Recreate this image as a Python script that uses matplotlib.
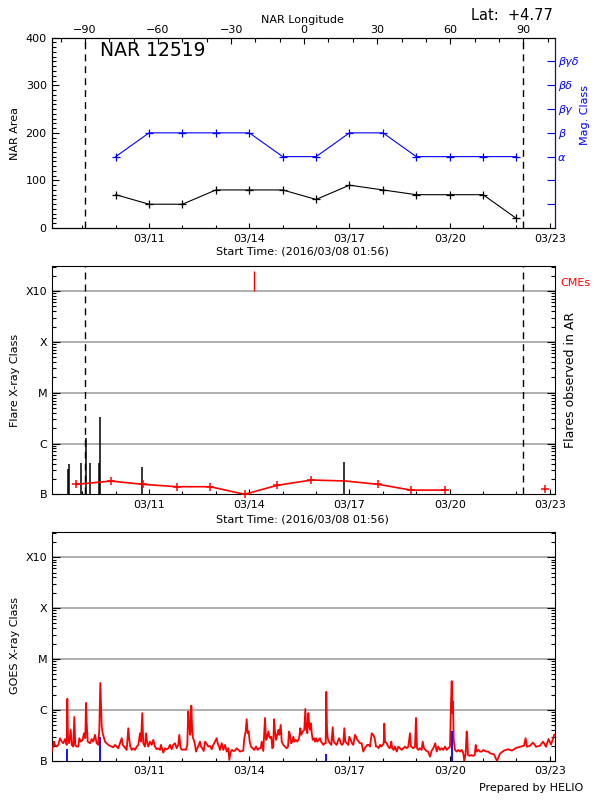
import numpy as np
import pandas as pd
import matplotlib
matplotlib.use('Agg')
import matplotlib.pyplot as plt
import matplotlib.dates as mdates
from matplotlib.ticker import FixedLocator, MultipleLocator, NullFormatter, LogLocator, FixedFormatter

plt.rcParams['font.family'] = ['DejaVu Sans']

# ---------------- data (days are decimal day-of-March 2016) ----------------
x_start_day = 8.081      # 2016/03/08 01:56
x_end_day = 23.153
lon_m90_day = 9.078      # NAR longitude -90
lon_p90_day = 22.204     # NAR longitude +90
date_tick_days = [11, 14, 17, 20, 23]
lon_ticks = [-90, -60, -30, 0, 30, 60, 90]

nar_days = [10, 11, 12, 13, 14, 15, 16, 17, 18, 19, 20, 21, 22]
nar_area = [70, 50, 50, 80, 80, 80, 60, 90, 80, 70, 70, 70, 20]
mag_class = ['α', 'β', 'β', 'β', 'β', 'α', 'α', 'β', 'β', 'α', 'α', 'α', 'α']
mag_names = ['', '', 'α', 'β', 'βγ', 'βδ', 'βγδ']

flare_days = [8.581, 8.611, 8.952, 9.111, 9.222, 9.509, 9.530, 10.776, 16.836]
flare_peak = [3.2e-7, 3.9e-7, 4.2e-7, 1.3e-6, 4.2e-7, 4.2e-7, 3.3e-6, 3.4e-7, 4.3e-7]

bg_days = [8.826, 9.856, 10.826, 11.835, 12.829, 13.859, 14.832, 15.862, 16.86,
           17.865, 18.838, 19.868, 20.85, 21.85, 22.845]
bg_flux = [1.57e-7, 1.82e-7, 1.57e-7, 1.41e-7, 1.41e-7, 1.0e-7, 1.5e-7, 1.91e-7, 1.83e-7,
           1.57e-7, 1.21e-7, 1.21e-7, np.nan, np.nan, 1.29e-7]
bg_marker = [1, 1, 1, 1, 1, 1, 1, 1, 0, 1, 1, 1, 0, 0, 1]

cme_days = [14.147]
cme_low, cme_high = 1.0e-3, 2.5e-3

class_levels = [1e-7, 1e-6, 1e-5, 1e-4, 1e-3]
class_labels = ['B', 'C', 'M', 'X', 'X10']

goes_evt_days = [8.551, 9.539, 16.306, 20.078]
goes_evt_top = [1.74e-7, 2.9e-7, 1.38e-7, 3.8e-7]

goes_days = [
 8.081, 8.093, 8.132, 8.153, 8.183, 8.234, 8.281, 8.332, 8.383, 8.431, 8.482, 8.533, 8.551, 8.572,
 8.602, 8.653, 8.683, 8.731, 8.761, 8.791, 8.832, 8.880, 8.910, 8.952, 9.012, 9.051, 9.090, 9.111,
 9.132, 9.162, 9.231, 9.282, 9.329, 9.380, 9.431, 9.479, 9.509, 9.539, 9.560, 9.581, 9.611, 9.650,
 9.680, 9.731, 9.779, 9.829, 9.880, 9.928, 9.979, 10.030, 10.078, 10.129, 10.180, 10.210, 10.249,
 10.288, 10.329, 10.377, 10.407, 10.437, 10.479, 10.527, 10.578, 10.629, 10.677, 10.728, 10.758,
 10.796, 10.826, 10.877, 10.907, 10.946, 10.976, 11.027, 11.078, 11.126, 11.177, 11.228, 11.275,
 11.326, 11.356, 11.395, 11.425, 11.476, 11.527, 11.575, 11.625, 11.676, 11.724, 11.775, 11.826,
 11.874, 11.904, 11.945, 11.993, 12.053, 12.104, 12.143, 12.173, 12.203, 12.225, 12.246, 12.264,
 12.285, 12.306, 12.336, 12.366, 12.404, 12.443, 12.485, 12.524, 12.554, 12.593, 12.635, 12.674,
 12.725, 12.772, 12.823, 12.874, 12.922, 12.973, 13.024, 13.054, 13.093, 13.123, 13.174, 13.222,
 13.272, 13.323, 13.371, 13.401, 13.443, 13.482, 13.521, 13.572, 13.623, 13.670, 13.721, 13.772,
 13.820, 13.850, 13.892, 13.922, 13.952, 13.982, 14.012, 14.051, 14.102, 14.150, 14.201, 14.251,
 14.299, 14.341, 14.371, 14.419, 14.470, 14.500, 14.530, 14.569, 14.599, 14.629, 14.659, 14.689,
 14.719, 14.740, 14.770, 14.800, 14.839, 14.869, 14.899, 14.941, 14.971, 15.019, 15.069, 15.120,
 15.159, 15.189, 15.219, 15.249, 15.288, 15.318, 15.348, 15.390, 15.438, 15.468, 15.498, 15.527,
 15.557, 15.599, 15.647, 15.677, 15.707, 15.737, 15.767, 15.797, 15.817, 15.847, 15.869, 15.899,
 15.937, 15.967, 15.997, 16.036, 16.078, 16.117, 16.147, 16.186, 16.216, 16.258, 16.288, 16.306,
 16.327, 16.348, 16.378, 16.416, 16.455, 16.497, 16.527, 16.566, 16.617, 16.665, 16.695, 16.737,
 16.776, 16.815, 16.845, 16.875, 16.917, 16.965, 16.995, 17.036, 17.075, 17.114, 17.165, 17.195,
 17.234, 17.276, 17.314, 17.365, 17.413, 17.455, 17.494, 17.533, 17.584, 17.614, 17.665, 17.713,
 17.755, 17.794, 17.833, 17.875, 17.913, 17.952, 17.994, 18.024, 18.042, 18.063, 18.114, 18.161,
 18.203, 18.233, 18.251, 18.281, 18.323, 18.362, 18.413, 18.461, 18.512, 18.563, 18.611, 18.662,
 18.712, 18.760, 18.811, 18.841, 18.910, 18.961, 18.991, 19.021, 19.060, 19.110, 19.161, 19.191,
 19.230, 19.290, 19.350, 19.410, 19.461, 19.509, 19.569, 19.610, 19.658, 19.709, 19.760, 19.808,
 19.859, 19.909, 19.957, 20.009, 20.039, 20.060, 20.078, 20.099, 20.120, 20.159, 20.210, 20.258,
 20.308, 20.359, 20.407, 20.437, 20.479, 20.509, 20.527, 20.548, 20.587, 20.659, 20.707, 20.749,
 20.779, 20.809, 20.857, 20.907, 20.958, 21.006, 21.057, 21.108, 21.156, 21.207, 21.327, 21.416,
 21.506, 21.626, 21.746, 21.866, 21.985, 22.105, 22.225, 22.273, 22.315, 22.405, 22.495, 22.584,
 22.704, 22.794, 22.884, 22.959, 23.034, 23.133]
# GOES 1-8 A flux in units of 1e-7 W/m^2
goes_b = [
 1.53, 1.78, 1.92, 2.4, 2.07, 1.92, 2.07, 2.8, 2.4, 2.23, 2.7, 2.07, 16.6, 3.0,
 2.23, 4.1, 2.07, 1.92, 7.3, 2.07, 1.92, 1.92, 2.8, 2.4, 2.6, 3.5, 2.8, 13.8,
 5.5, 2.4, 2.23, 2.7, 2.4, 3.26, 2.23, 2.07, 4.1, 34, 11.8, 4.8, 3.5, 2.8,
 2.4, 2.23, 2.07, 1.98, 1.92, 1.86, 2.07, 1.92, 1.78, 2.23, 2.8, 2.07, 1.92,
 1.78, 1.65, 4.4, 2.6, 1.92, 1.65, 1.78, 1.65, 1.92, 2.07, 3.5, 2.4,
 8.7, 2.23, 1.92, 3.5, 2.23, 1.92, 2.4, 2.07, 2.6, 1.9, 1.7, 1.78,
 1.65, 2.07, 1.7, 1.46, 1.78, 1.7, 1.78, 2.07, 1.7, 2.07, 2.23, 1.78,
 2.07, 3.26, 1.78, 1.65, 1.7, 1.65, 2.07, 9.4, 5.5, 3.26, 4.1, 12.2,
 4.8, 3.0, 2.6, 2.23, 1.53, 1.78, 2.07, 2.4, 1.92, 1.78, 1.57, 2.4,
 2.16, 1.92, 1.98, 1.7, 2.07, 2.4, 2.8, 2.23, 1.92, 1.65, 2.23, 1.65,
 2.07, 1.53, 1.78, 1.05, 1.53, 1.65, 1.57, 1.6, 1.78, 1.65, 1.53, 1.57,
 1.6, 2.8, 3.8, 6.6, 3.5, 3.8, 2.4, 1.92, 1.78, 1.65, 1.92, 1.65,
 1.78, 1.78, 2.4, 1.57, 7.0, 2.6, 2.8, 3.8, 3.0, 2.8, 3.0, 1.78,
 1.92, 6.6, 3.8, 2.6, 3.26, 4.1, 3.26, 5.1, 2.4, 2.07, 1.92, 1.78,
 1.92, 3.8, 3.26, 2.23, 2.4, 3.0, 2.4, 2.6, 2.4, 2.6, 3.0, 4.4,
 3.26, 3.8, 4.1, 10.5, 4.1, 3.5, 8.7, 4.8, 4.1, 5.5, 3.5, 2.6,
 2.8, 2.4, 2.8, 2.4, 2.6, 2.8, 2.4, 2.23, 2.07, 2.23, 2.23, 22.7,
 4.1, 2.8, 2.4, 2.23, 2.07, 4.6, 2.4, 2.23, 2.07, 2.6, 2.8, 2.23,
 2.07, 2.23, 4.4, 2.4, 2.23, 2.07, 3.0, 2.6, 2.23, 2.07, 3.26, 3.0,
 2.6, 2.4, 2.23, 2.23, 1.53, 1.78, 1.92, 2.07, 2.07, 1.92, 3.5, 3.26,
 2.8, 1.92, 1.92, 1.78, 2.07, 1.92, 2.07, 2.23, 5.4, 2.4, 2.23, 1.92,
 1.78, 1.92, 2.4, 1.78, 1.65, 1.92, 1.53, 1.92, 1.78, 1.65, 1.78, 1.92,
 1.78, 1.92, 3.5, 1.92, 1.78, 1.92, 7.0, 1.78, 1.65, 1.78, 1.65, 2.4,
 1.78, 1.6, 1.53, 1.22, 1.6, 1.78, 2.23, 1.53, 1.92, 1.65, 1.78, 1.65,
 1.92, 1.65, 1.78, 1.92, 13.8, 37, 8.7, 14.8, 2.6, 1.65, 1.53, 1.65,
 1.53, 1.65, 1.42, 1.0, 1.42, 3.8, 2.8, 1.31, 1.26, 1.31, 1.26, 1.31,
 2.07, 1.53, 1.65, 1.53, 1.53, 1.65, 1.57, 1.53, 1.53, 1.42, 1.35, 1.0,
 1.4, 1.6, 1.7, 1.6, 1.8, 1.9, 2.0, 2.8, 1.9, 2.0, 2.3, 1.9,
 2.0, 2.4, 1.9, 2.7, 2.1, 3.3]

# ---------------- helpers ----------------
T0 = pd.Timestamp('2016-03-01')


def dnum(days):
    d = np.atleast_1d(np.asarray(days, dtype=float))
    return mdates.date2num((T0 + pd.to_timedelta(d - 1.0, unit='D')).to_numpy())


W, H = 600, 800
fig = plt.figure(figsize=(6, 8), dpi=100)
fig.patch.set_facecolor('white')

L = 51.6 / W
Wd = 503.4 / W
ax1 = fig.add_axes([L, 1 - 228 / H, Wd, 190.3 / H])
ax2 = fig.add_axes([L, 1 - 494.3 / H, Wd, 228.6 / H])
ax3 = fig.add_axes([L, 1 - 761 / H, Wd, 229.3 / H])

xlim = (dnum(x_start_day)[0], dnum(x_end_day)[0])
FS = 8
GRAY = '#9a9a9a'
dash = (0, (5, 3.6))
MS = 6


def style_time_axis(ax, pad):
    ax.set_xlim(*xlim)
    ax.xaxis.set_major_locator(FixedLocator(dnum(date_tick_days)))
    ax.xaxis.set_minor_locator(mdates.DayLocator())
    ax.xaxis.set_major_formatter(mdates.DateFormatter('%m/%d'))
    ax.tick_params(axis='x', which='major', direction='in', length=3.5, width=0.8,
                   top=False, labelsize=FS, pad=pad)
    ax.tick_params(axis='x', which='minor', direction='in', length=2.3, width=0.8, top=False)
    for s in ax.spines.values():
        s.set_linewidth(0.8)


# ---------------- panel 1 ----------------
style_time_axis(ax1, 4)
ax1.set_ylim(0, 400)
ax1.yaxis.set_major_locator(MultipleLocator(100))
ax1.yaxis.set_minor_locator(MultipleLocator(10))
ax1.tick_params(axis='y', which='major', direction='in', length=5, width=0.8,
                right=False, labelsize=FS, pad=3.5)
ax1.tick_params(axis='y', which='minor', direction='in', length=2.8, width=0.8, right=False)
ax1.plot(dnum(nar_days), nar_area, color='black', lw=0.8, marker='+', ms=MS, mew=0.9)
for d in (lon_m90_day, lon_p90_day):
    ax1.axvline(dnum(d)[0], color='black', lw=1.0, ls=dash)

# top longitude axis
ax1t = ax1.twiny()
rate = 180.0 / (lon_p90_day - lon_m90_day)
ax1t.set_xlim(-90 + (x_start_day - lon_m90_day) * rate, -90 + (x_end_day - lon_m90_day) * rate)
ax1t.xaxis.set_major_locator(FixedLocator(lon_ticks))
ax1t.xaxis.set_minor_locator(MultipleLocator(10))
ax1t.tick_params(axis='x', which='major', direction='in', length=4, width=0.8,
                 labelsize=FS, pad=2)
ax1t.tick_params(axis='x', which='minor', direction='in', length=3, width=0.8)
ax1t.xaxis.set_major_formatter(FixedFormatter([('\u2212%d' % -v) if v < 0 else '%d' % v
                                               for v in lon_ticks]))

# right mag class axis
ax1r = ax1.twinx()
ax1r.set_ylim(0, 8)
ax1r.set_yticks(range(1, 8))
ax1r.set_yticklabels(mag_names, color='blue', fontsize=FS, fontstyle='italic')
ax1r.tick_params(axis='y', direction='in', length=5.5, width=0.8, colors='blue', pad=2)
ax1r.tick_params(axis='y', labelcolor='blue')
ax1r.spines['right'].set_color('blue')
for s in ('left', 'top', 'bottom'):
    ax1r.spines[s].set_visible(False)
ax1.spines['right'].set_visible(False)
ax1r.spines['right'].set_linewidth(0.8)
mag_idx = [mag_names.index(m) + 1 for m in mag_class]
ax1r.plot(dnum(nar_days), mag_idx, color='blue', lw=0.8, marker='+', ms=MS, mew=0.9)

# ---------------- log panels ----------------
def style_log(ax):
    ax.set_yscale('log')
    ax.set_ylim(1e-7, 10 ** -2.5)
    ax.yaxis.set_major_locator(FixedLocator(class_levels))
    ax.yaxis.set_major_formatter(FixedFormatter(class_labels))
    ax.yaxis.set_minor_locator(LogLocator(base=10, subs=np.arange(2, 10), numticks=20))
    ax.yaxis.set_minor_formatter(NullFormatter())
    ax.tick_params(axis='y', which='major', direction='in', length=5.5, width=0.8,
                   left=True, right=True, labelsize=FS, pad=3)
    ax.tick_params(axis='y', which='minor', direction='in', length=2.8, width=0.8,
                   left=True, right=True)
    for lv in class_levels[1:]:
        ax.axhline(lv, color=GRAY, lw=1.1, zorder=1)


# panel 2
style_time_axis(ax2, 4)
style_log(ax2)
ax2.vlines(dnum(flare_days), 1e-7, flare_peak, color='black', lw=1.1, zorder=3)
for d in (lon_m90_day, lon_p90_day):
    ax2.axvline(dnum(d)[0], color='black', lw=1.0, ls=dash, zorder=2)
bgx = dnum(bg_days)
ax2.plot(bgx, bg_flux, color='red', lw=1.2, zorder=4, clip_on=True)
mk = [i for i, m in enumerate(bg_marker) if m]
ax2.plot(bgx[mk], np.array(bg_flux)[mk], ls='none', color='red', marker='+', ms=MS, mew=1.1,
         zorder=4, clip_on=False)
ax2.vlines(dnum(cme_days), cme_low, cme_high, color='red', lw=1.0, zorder=4)

# panel 3
style_time_axis(ax3, 3.5)
style_log(ax3)
ax3.plot(dnum(goes_days), np.array(goes_b) * 1e-7, color='red', lw=1.3, zorder=3)
ax3.vlines(dnum(goes_evt_days), 1e-7, goes_evt_top, color='blue', lw=1.3, zorder=4)

# ---------------- texts ----------------
def ft(x, y, s, **kw):
    fig.text(x / W, 1 - y / H, s, **kw)


ft(302, 20, 'NAR Longitude', ha='center', va='center', fontsize=FS)
ft(553, 15, 'Lat:  +4.77', ha='right', va='center', fontsize=10.5)
ft(100, 51, 'NAR 12519', ha='left', va='center', fontsize=13.5)
ft(15, 133, 'NAR Area', ha='center', va='center', rotation=90, fontsize=FS)
ft(585, 115, 'Mag. Class', ha='center', va='center', rotation=90, fontsize=FS, color='blue')
ft(302, 252, 'Start Time: (2016/03/08 01:56)', ha='center', va='center', fontsize=FS)
ft(15, 380, 'Flare X-ray Class', ha='center', va='center', rotation=90, fontsize=FS)
ft(570, 380, 'Flares observed in AR', ha='center', va='center', rotation=90, fontsize=9)
ft(560, 283, 'CMEs', ha='left', va='center', fontsize=FS, color='red')
ft(302, 519, 'Start Time: (2016/03/08 01:56)', ha='center', va='center', fontsize=FS)
ft(15, 646, 'GOES X-ray Class', ha='center', va='center', rotation=90, fontsize=FS)
ft(583, 788, 'Prepared by HELIO', ha='right', va='center', fontsize=FS)

fig.savefig('out.png', dpi=100, facecolor='white')
